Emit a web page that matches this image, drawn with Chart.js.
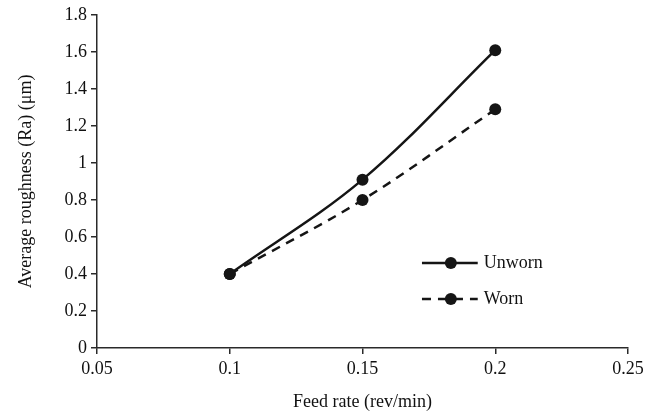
<!DOCTYPE html>
<html>
<head>
<meta charset="utf-8">
<script src="https://cdn.jsdelivr.net/npm/chart.js@4"></script>
<style>
  html,body{margin:0;padding:0;background:#fff;}
  #wrap{width:656px;height:413px;position:relative;}
</style>
</head>
<body>
<div id="wrap"><canvas id="c" width="656" height="413"></canvas></div>
<script>
// data
const feedRates=[0.1,0.15,0.2];
const unworn=[0.40,0.91,1.61];
const worn=[0.40,0.80,1.29];
const xTicks=[0.05,0.1,0.15,0.2,0.25];
const yMax=1.8, yStep=0.2;

const INK='#151515', AXIS='#2a2a2a', TXT='#111', FONT='"Liberation Serif", "Times New Roman", serif';

// legend drawn inside the plot area (like the original)
const insideLegend={
  id:'insideLegend',
  afterDraw(chart){
    const {ctx,chartArea:a}=chart;
    const w=a.right-a.left, h=a.bottom-a.top;
    const x0=a.left+w*0.612, x1=a.left+w*0.717, xm=(x0+x1)/2+1;
    chart.data.datasets.forEach((ds,i)=>{
      const y=a.top+h*(0.745+i*0.108);
      ctx.save();
      ctx.strokeStyle=INK; ctx.lineWidth=2.5;
      ctx.setLineDash(ds.borderDash||[]);
      ctx.beginPath(); ctx.moveTo(x0,y); ctx.lineTo(x1,y); ctx.stroke();
      ctx.setLineDash([]);
      ctx.fillStyle=INK;
      ctx.beginPath(); ctx.arc(xm,y,6,0,Math.PI*2); ctx.fill();
      ctx.font='18px '+FONT; ctx.textBaseline='middle'; ctx.fillStyle=TXT;
      ctx.fillText(ds.label,x1+6,y);
      ctx.restore();
    });
  }
};

new Chart(document.getElementById('c'),{
  type:'line',
  data:{datasets:[
    {label:'Unworn',data:feedRates.map((x,i)=>({x,y:unworn[i]})),borderColor:INK,backgroundColor:INK,borderWidth:2.5,pointRadius:6,pointBackgroundColor:INK,pointBorderWidth:0,tension:0.35},
    {label:'Worn',data:feedRates.map((x,i)=>({x,y:worn[i]})),borderColor:INK,backgroundColor:INK,borderWidth:2.5,borderDash:[9,7],pointRadius:6,pointBackgroundColor:INK,pointBorderWidth:0,tension:0.35}
  ]},
  options:{
    responsive:false,animation:false,
    layout:{padding:{top:15,right:28,left:0,bottom:0}},
    plugins:{legend:{display:false},tooltip:{enabled:false}},
    scales:{
      x:{type:'linear',min:0.05,max:0.25,
        afterBuildTicks:s=>{s.ticks=xTicks.map(v=>({value:v}));},
        afterFit:s=>{s.height=65;},
        grid:{display:true,drawOnChartArea:false,drawTicks:true,tickLength:6,color:AXIS,lineWidth:1.5},
        border:{display:true,color:AXIS,width:1.5},
        ticks:{color:TXT,font:{family:FONT,size:18},padding:4,maxRotation:0,callback:v=>String(+v.toFixed(2))},
        title:{display:true,text:'Feed rate (rev/min)',color:TXT,font:{family:FONT,size:18},padding:{top:2,bottom:0}}
      },
      y:{min:0,max:yMax,
        ticks:{stepSize:yStep,color:TXT,font:{family:FONT,size:18},padding:4,callback:v=>String(+v.toFixed(1))},
        afterFit:s=>{s.width=97;},
        grid:{display:true,drawOnChartArea:false,drawTicks:true,tickLength:6,color:AXIS,lineWidth:1.5},
        border:{display:true,color:AXIS,width:1.5},
        title:{display:true,text:'Average roughness (Ra) (μm)',color:TXT,font:{family:FONT,size:18},padding:{top:15,bottom:4}}
      }
    }
  },
  plugins:[insideLegend]
});
</script>
</body>
</html>
